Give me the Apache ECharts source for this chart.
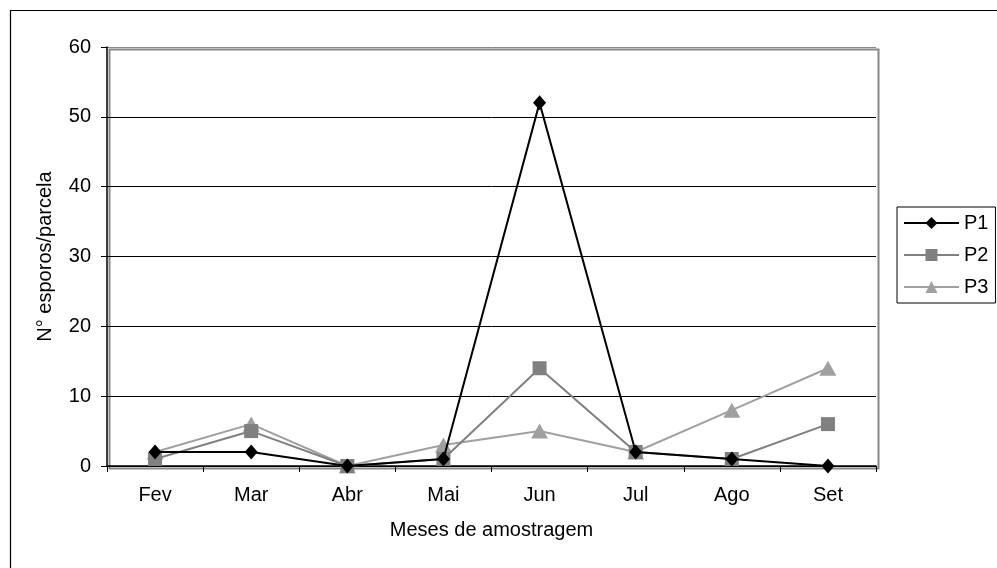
<!DOCTYPE html>
<html>
<head>
<meta charset="utf-8">
<script src="https://cdn.jsdelivr.net/npm/echarts@6/dist/echarts.min.js"></script>
<style>
html,body{margin:0;padding:0;background:#fff;}
#chart{width:997px;height:568px;}
</style>
</head>
<body>
<div id="chart"></div>
<script>
const categories = ['Fev','Mar','Abr','Mai','Jun','Jul','Ago','Set'];
const p1 = [2, 2, 0, 1, 52, 2, 1, 0];
const p2 = [1, 5, 0, 1, 14, 2, 1, 6];
const p3 = [2, 6, 0, 3, 5, 2, 8, 14];
const seriesNames = ['P1','P2','P3'];
const yTicks = [0, 10, 20, 30, 40, 50, 60];

const FONT = 'Arial, "Liberation Sans", sans-serif';
const FS = 20;
const chart = echarts.init(document.getElementById('chart'), null, {renderer:'canvas'});
const G = {left:107, right:121, top:47, bottom:102};

chart.setOption({
  animation:false,
  backgroundColor:'#fff',
  textStyle:{fontFamily:FONT},
  grid:{left:G.left, right:G.right, top:G.top, bottom:G.bottom, containLabel:false},
  graphic:[
    {type:'rect', left:8, top:8, shape:{x:0,y:0,width:1200,height:1000}, style:{fill:null, stroke:'#000', lineWidth:1.2}, silent:true, z:-1},
    {type:'rect', left:G.left, top:G.top, shape:{x:0,y:0,width:997-G.left-G.right,height:568-G.top-G.bottom}, style:{fill:null, stroke:'#888', lineWidth:2}, silent:true, z:-1}
  ],
  legend:{
    orient:'vertical',
    left:897, top:207,
    data:seriesNames,
    itemWidth:55, itemHeight:15, itemGap:12,
    padding:[6,7,6,6],
    borderColor:'#000', borderWidth:1,
    textStyle:{fontSize:FS, color:'#000', fontFamily:FONT}
  },
  xAxis:{
    type:'category',
    data:categories,
    boundaryGap:true,
    name:'Meses de amostragem',
    nameLocation:'middle',
    nameGap:54,
    nameTextStyle:{fontSize:FS, color:'#000', fontFamily:FONT},
    axisLine:{lineStyle:{color:'#000', width:1.5}},
    axisTick:{show:true, alignWithLabel:false, length:6, inside:false, lineStyle:{color:'#000'}},
    axisLabel:{fontSize:FS, color:'#000', margin:19, fontFamily:FONT},
    splitLine:{show:false}
  },
  yAxis:{
    type:'value',
    min:0, max:60, interval:10,
    name:'N° esporos/parcela',
    nameLocation:'middle',
    nameGap:52,
    nameTextStyle:{fontSize:FS, color:'#000', fontFamily:FONT},
    axisLine:{show:true, lineStyle:{color:'#000', width:1.5}},
    axisTick:{show:true, length:6, lineStyle:{color:'#000'}},
    axisLabel:{fontSize:FS, color:'#000', margin:16, fontFamily:FONT,
      formatter:function(v){ return yTicks.indexOf(v) >= 0 ? String(v) : ''; }},
    splitLine:{show:true, lineStyle:{color:['#000','#000','#000','#000','#000','#000','#888'], width:1}}
  },
  series:[
    {name:'P1', type:'line', data:p1, symbol:'diamond', symbolSize:[13,15],
      lineStyle:{color:'#000', width:2}, itemStyle:{color:'#000'}, z:5},
    {name:'P2', type:'line', data:p2, symbol:'rect', symbolSize:14,
      lineStyle:{color:'#808080', width:2}, itemStyle:{color:'#808080'}, z:4},
    {name:'P3', type:'line', data:p3, symbol:'triangle', symbolSize:[17,15],
      lineStyle:{color:'#a0a0a0', width:2}, itemStyle:{color:'#a0a0a0'}, z:3}
  ]
});
</script>
</body>
</html>
